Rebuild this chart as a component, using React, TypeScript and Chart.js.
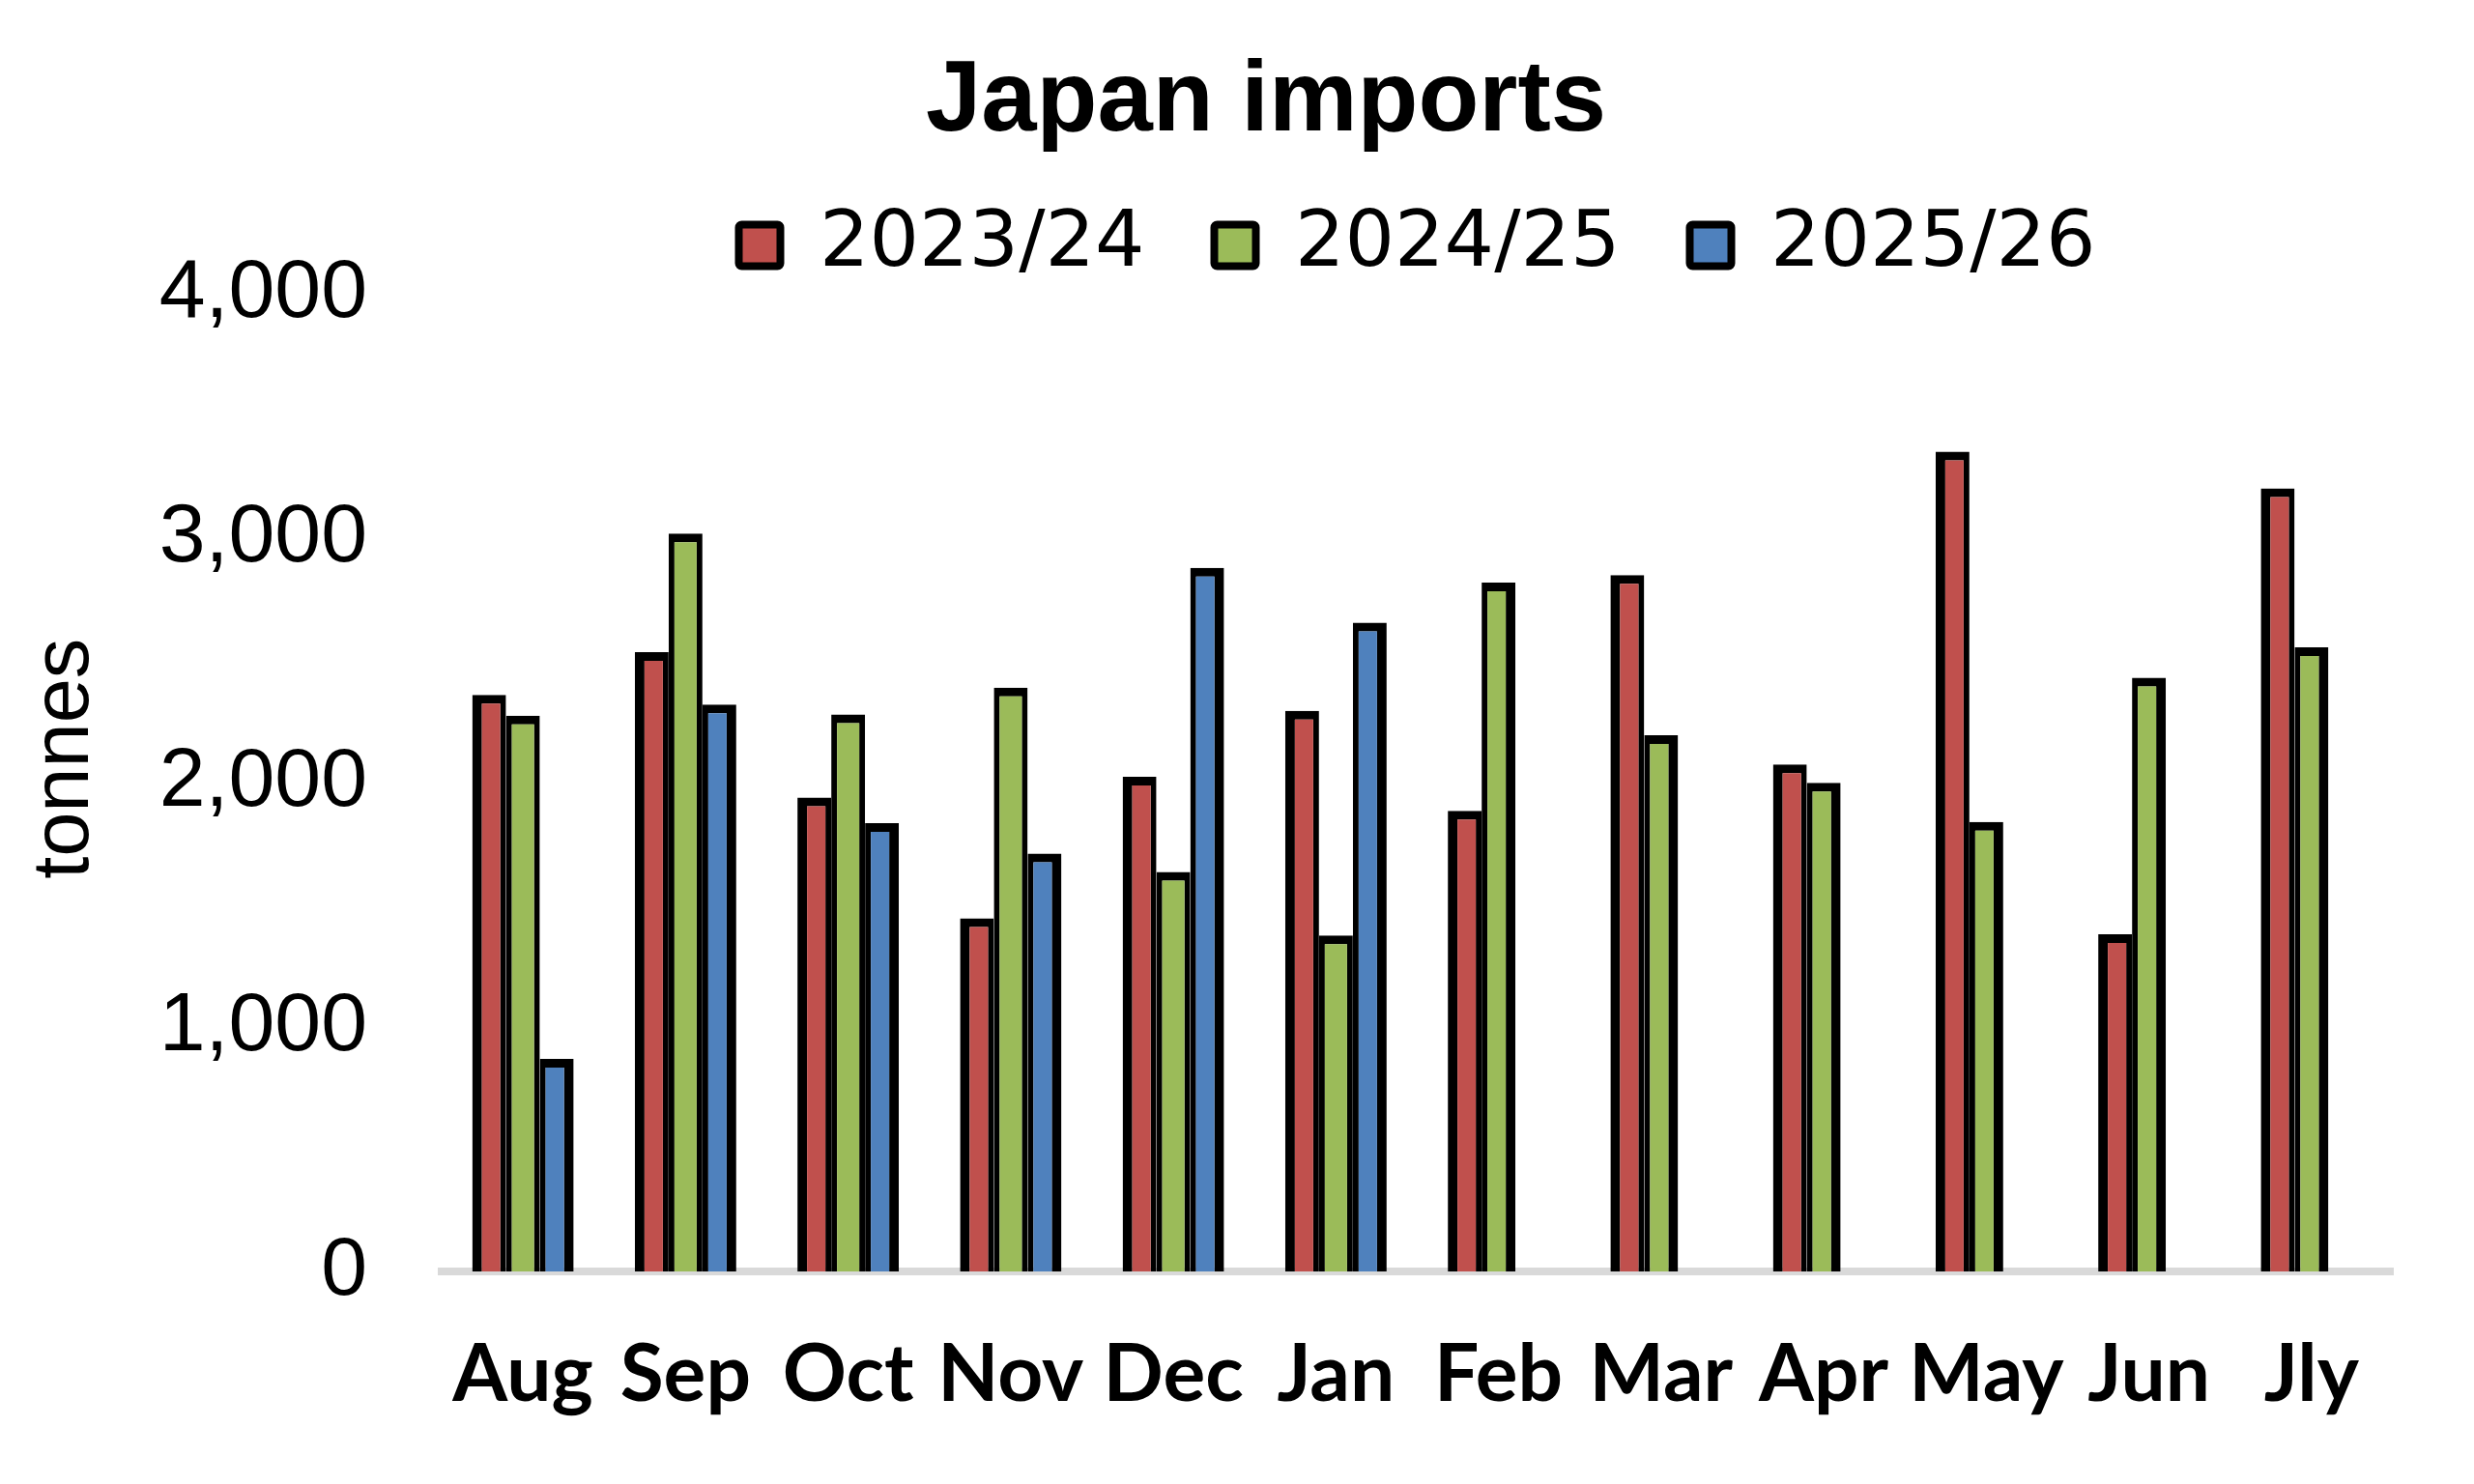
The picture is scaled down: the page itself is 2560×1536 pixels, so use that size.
import React, { useEffect, useRef } from "react";
import { Chart, registerables } from "chart.js";

Chart.register(...registerables);

const months = ["Aug", "Sep", "Oct", "Nov", "Dec", "Jan", "Feb", "Mar", "Apr", "May", "Jun", "Jly"];
const series2023_24 = [2360, 2535, 1940, 1445, 2025, 2295, 1885, 2850, 2075, 3355, 1380, 3205];
const series2024_25 = [2275, 3020, 2280, 2390, 1635, 1375, 2820, 2195, 2000, 1840, 2430, 2555];
const series2025_26 = [870, 2320, 1835, 1710, 2880, 2655, null, null, null, null, null, null];
const seriesLabels = ["2023/24", "2024/25", "2025/26"];
const yTicks = [0, 1000, 2000, 3000, 4000];

const colors = ["#C0504D", "#9BBB59", "#4F81BD"];

export default function App() {
  const ref = useRef<HTMLCanvasElement | null>(null);

  useEffect(() => {
    if (!ref.current) return;
    const allSeries = [series2023_24, series2024_25, series2025_26];
    const borderFn = (ctx: any) => {
      const i = ctx.dataIndex;
      const ds = ctx.datasetIndex;
      const present: number[] = [];
      allSeries.forEach((s, k) => {
        if (s[i] !== null && s[i] !== undefined) present.push(k);
      });
      const first = present.length ? present[0] : -1;
      const last = present.length ? present[present.length - 1] : -1;
      return { top: 9, bottom: 0, left: ds === first ? 10 : 6, right: ds === last ? 10 : 6 };
    };

    const chart = new Chart(ref.current, {
      type: "bar",
      data: {
        labels: months,
        datasets: allSeries.map((s, k) => ({
          label: seriesLabels[k],
          data: s,
          backgroundColor: colors[k],
          borderColor: "#000000",
          borderWidth: borderFn as any,
          borderSkipped: false as any,
          categoryPercentage: 0.624,
          barPercentage: 1.0,
        })),
      },
      options: {
        responsive: false,
        animation: false,
        devicePixelRatio: 1,
        layout: { padding: { left: 144, right: 84, top: 0, bottom: 0 } },
        plugins: {
          tooltip: { enabled: false },
          title: {
            display: true,
            text: "Japan imports",
            color: "#000000",
            font: { family: "'Liberation Sans', Arial, sans-serif", size: 103, weight: "bold", lineHeight: 1 },
            padding: { top: 55, bottom: -16.5 },
          },
          legend: {
            display: true,
            position: "top",
            fullSize: false,
            labels: {
              color: "#000000",
              font: { family: "'DejaVu Sans', sans-serif", size: 81 },
              boxWidth: 43,
              boxHeight: 43,
              padding: 72,
              generateLabels: (c: any) => {
                const items = Chart.defaults.plugins.legend.labels.generateLabels(c);
                items.forEach((it: any, k: number) => {
                  it.lineWidth = 8;
                  it.strokeStyle = "#000000";
                  it.fillStyle = colors[k];
                  it.borderRadius = 3;
                });
                return items;
              },
            },
          },
        },
        scales: {
          x: {
            grid: { display: false, drawTicks: false },
            border: { display: true, color: "#D9D9D9", width: 8 },
            ticks: {
              color: "#000000",
              font: { family: "Lato, 'Liberation Sans', sans-serif", size: 82, weight: "bold" },
              padding: 58,
              maxRotation: 0,
              autoSkip: false,
            },
            afterFit: (scale: any) => {
              scale.height = 220;
            },
          },
          y: {
            min: 0,
            max: 4000,
            grid: { display: false, drawTicks: false },
            border: { display: false },
            afterBuildTicks: (scale: any) => {
              scale.ticks = yTicks.map((v) => ({ value: v }));
            },
            ticks: {
              color: "#000000",
              font: { family: "'Liberation Sans', Arial, sans-serif", size: 86 },
              padding: 77,
              callback: (v: any) => Number(v).toLocaleString("en-US"),
            },
            title: {
              display: true,
              text: "tonnes",
              color: "#000000",
              font: { family: "'Liberation Sans', Arial, sans-serif", size: 83, lineHeight: 1.2 },
              padding: { top: -126, bottom: 0 },
            },
            afterFit: (scale: any) => {
              scale.width = 313;
              if (!scale.__titlePatched) {
                const orig = scale.drawTitle.bind(scale);
                scale.drawTitle = () => {
                  const t = scale.top;
                  const b = scale.bottom;
                  scale.top = t - 25;
                  scale.bottom = b - 25;
                  orig();
                  scale.top = t;
                  scale.bottom = b;
                };
                scale.__titlePatched = true;
              }
            },
          },
        },
      },
    });
    return () => chart.destroy();
  }, []);

  return (
    <div style={{ position: "fixed", left: 0, top: 0, width: 2560, height: 1536, background: "#ffffff" }}>
      <canvas ref={ref} width={2560} height={1536} style={{ display: "block", width: 2560, height: 1536 }} />
    </div>
  );
}
